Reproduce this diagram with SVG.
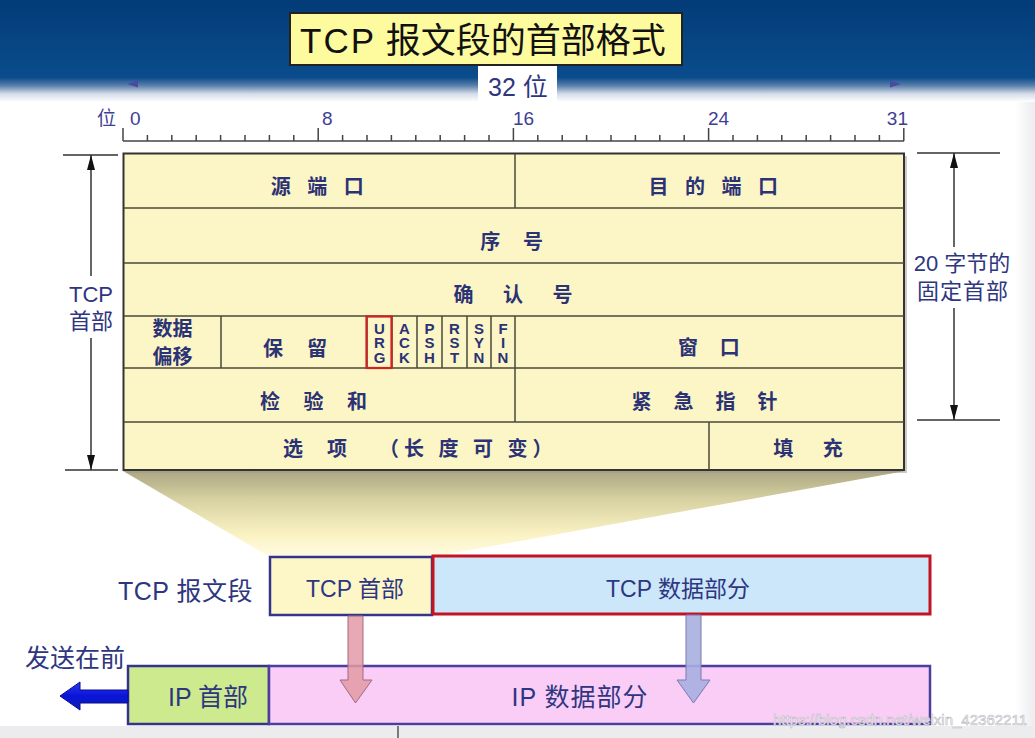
<svg xmlns="http://www.w3.org/2000/svg" width="1035" height="738" viewBox="0 0 1035 738">
<defs>
<linearGradient id="band" x1="0" y1="0" x2="0" y2="1">
<stop offset="0" stop-color="#033c78"/>
<stop offset="0.76" stop-color="#0a4c8c"/>
<stop offset="0.84" stop-color="#5c80ab"/>
<stop offset="0.92" stop-color="#d5dce8"/>
<stop offset="1" stop-color="#ffffff"/>
</linearGradient>
<linearGradient id="funnel" x1="0" y1="0" x2="0" y2="1">
<stop offset="0" stop-color="#aca783"/>
<stop offset="0.35" stop-color="#d9d3a4"/>
<stop offset="0.75" stop-color="#fbf3c4"/>
<stop offset="1" stop-color="#fffbe2"/>
</linearGradient>
<linearGradient id="blueArrow" x1="0" y1="0" x2="0" y2="1">
<stop offset="0" stop-color="#2a3af0"/>
<stop offset="0.5" stop-color="#0a14d8"/>
<stop offset="1" stop-color="#1020b0"/>
</linearGradient>
<linearGradient id="edge" x1="0" y1="0" x2="1" y2="0">
<stop offset="0" stop-color="#ffffff"/>
<stop offset="1" stop-color="#ececef"/>
</linearGradient>
<marker id="ah" markerUnits="userSpaceOnUse" markerWidth="16" markerHeight="9" refX="15" refY="4" orient="auto-start-reverse">
<path d="M0,0 L15,4 L0,8 Z" fill="#111"/>
</marker>
<style>
.cjk{font-family:"Liberation Sans","Noto Sans CJK SC",sans-serif}
.fld{font-family:"Liberation Sans","Noto Sans CJK SC",sans-serif;font-size:20px;font-weight:bold;fill:#2b3275;text-anchor:middle}
.fldc{font-family:"Noto Sans CJK SC",sans-serif;font-size:20px;font-weight:bold;fill:#2b3275}
.flag{font-family:"Liberation Sans",sans-serif;font-size:15px;font-weight:bold;fill:#2b3275;writing-mode:vertical-rl;text-orientation:upright;letter-spacing:-2.7px}
.lbl{font-family:"Liberation Sans","Noto Sans CJK SC",sans-serif;fill:#2e3680}
.rul{font-family:"Liberation Sans","Noto Sans CJK SC",sans-serif;font-size:19px;fill:#3e3e94}
.grid{stroke:#4a4a3a;stroke-width:1.5;fill:none}
.tick{stroke:#444;stroke-width:1.5}
.dim{stroke:#333;stroke-width:1.5;fill:none}
.box{stroke:#34348a;stroke-width:2.5}
</style>
</defs>

<!-- background -->
<rect x="0" y="0" width="1035" height="738" fill="#ffffff"/>
<rect x="1015" y="100" width="20" height="626" fill="url(#edge)"/>
<rect x="0" y="0" width="1035" height="102" fill="url(#band)"/>
<rect x="0" y="726" width="1035" height="12" fill="#ececee"/>
<line x1="398" y1="726" x2="398" y2="738" stroke="#555" stroke-width="1.5"/>

<!-- title -->
<g id="title">
<rect x="290" y="13" width="392" height="52" fill="#fdfb9e" stroke="#222" stroke-width="2"/>
<text x="300" y="53" class="cjk" font-size="35" fill="#111"><tspan letter-spacing="2">TCP</tspan> 报文段的首部格式</text>
</g>

<!-- 32 bit label -->
<g id="width-label">
<rect x="478" y="66" width="79" height="36" fill="#ffffff"/>
<polygon points="127,84 138,80.5 138,87.5" fill="#4a4aa0"/>
<polygon points="901,84 890,80.5 890,87.5" fill="#4a4aa0"/>
<text x="518" y="96" class="lbl" font-size="25" text-anchor="middle" fill="#3a3a90">32 位</text>
</g>

<!-- ruler -->
<g id="ruler">
<text x="97" y="125" class="rul" font-size="20">位</text>
<text x="130" y="125" class="rul">0</text>
<text x="322" y="125" class="rul">8</text>
<text x="513" y="125" class="rul">16</text>
<text x="708" y="125" class="rul">24</text>
<text x="908" y="125" class="rul" text-anchor="end">31</text>
<line x1="123" y1="141" x2="904" y2="141" class="tick"/>
<path class="tick" d="M123,128V141 M318.2,128V141 M513.4,128V141 M708.6,128V141 M903.8,128V141
M147.4,135V141 M171.8,135V141 M196.2,135V141 M220.6,135V141 M245,135V141 M269.4,135V141 M293.8,135V141
M342.6,135V141 M367,135V141 M391.4,135V141 M415.8,135V141 M440.2,135V141 M464.6,135V141 M489,135V141
M537.8,135V141 M562.2,135V141 M586.6,135V141 M611,135V141 M635.4,135V141 M659.8,135V141 M684.2,135V141
M733,135V141 M757.4,135V141 M781.8,135V141 M806.2,135V141 M830.6,135V141 M855,135V141 M879.4,135V141"/>
</g>

<!-- funnel -->
<g id="connectors">
<polygon points="123,471 905,471 432,557 270,557" fill="url(#funnel)"/>
</g>

<!-- header table -->
<g id="tcp-header">
<rect x="126" y="156" width="781" height="317" fill="#9a9a90" opacity="0.5"/>
<rect x="123.5" y="153.5" width="780.5" height="316.5" fill="#fcf6c6" stroke="#333" stroke-width="2"/>
<path class="grid" d="M124,208H904 M124,263H904 M124,316H904 M124,368H904 M124,422H904
M515,154V208 M515,368V422 M221,316V368 M367,316V368 M392,316V368 M417,316V368 M442,316V368 M467,316V368 M491,316V368 M515,316V368 M709,422V470"/>
</g>

<g id="src-port"><text x="320" y="194" class="fld" letter-spacing="5.5">源 端 口</text></g>
<g id="dst-port"><text x="716" y="194" class="fld" letter-spacing="5.5">目 的 端 口</text></g>
<g id="seq"><text x="516" y="249" class="fld" letter-spacing="8.7">序 号</text></g>
<g id="ack-num"><text x="519" y="302" class="fld" letter-spacing="12">确 认 号</text></g>
<g id="data-offset"><text x="172.5" y="336" class="fld" font-size="21">数据</text><text x="172.5" y="364" class="fld" font-size="21">偏移</text></g>
<g id="reserved"><text x="299.6" y="356" class="fld" letter-spacing="9.2">保 留</text></g>
<g id="flags">
<rect x="366.5" y="316.5" width="25" height="51.5" fill="none" stroke="#d02222" stroke-width="2.2"/>
<text x="379.5" y="320" class="flag">URG</text>
<text x="404.5" y="320" class="flag">ACK</text>
<text x="429.5" y="320" class="flag">PSH</text>
<text x="454.5" y="320" class="flag">RST</text>
<text x="479" y="320" class="flag">SYN</text>
<text x="503" y="320" class="flag">FIN</text>
</g>
<g id="window"><text x="713" y="355" class="fld" letter-spacing="8.2">窗 口</text></g>
<g id="checksum"><text x="318" y="409" class="fld" letter-spacing="9">检 验 和</text></g>
<g id="urgent-ptr"><text x="708.6" y="409" class="fld" letter-spacing="8.2">紧 急 指 针</text></g>
<g id="options"><text x="283" y="456" class="fldc"><tspan letter-spacing="9.7">选 项 </tspan><tspan x="379" letter-spacing="5">（长 度 可 变）</tspan></text></g>
<g id="padding"><text x="814" y="456" class="fld" letter-spacing="12">填 充</text></g>

<!-- dimension: TCP header -->
<g id="dim-left">
<path class="dim" d="M63,155H118 M65,470H118"/>
<path class="dim" d="M91,155V276" marker-start="url(#ah)"/>
<path class="dim" d="M91,470V338" marker-start="url(#ah)"/>
<text x="91" y="302" class="lbl" font-size="22" text-anchor="middle">TCP</text>
<text x="91" y="329" class="lbl" font-size="22" text-anchor="middle">首部</text>
</g>

<!-- dimension: 20 bytes -->
<g id="dim-right">
<path class="dim" d="M917,153H1000 M917,420H1000"/>
<path class="dim" d="M954,153V247" marker-start="url(#ah)"/>
<path class="dim" d="M954,420V308" marker-start="url(#ah)"/>
<text x="962" y="271" class="lbl" font-size="22" text-anchor="middle">20 字节的</text>
<text x="963" y="299" class="lbl" font-size="22" text-anchor="middle" letter-spacing="1">固定首部</text>
</g>

<!-- TCP segment -->
<g id="tcp-segment">
<text x="118" y="600" class="lbl" font-size="25" letter-spacing="0.5">TCP 报文段</text>
</g>
<g id="tcp-head-box">
<rect x="270" y="557" width="162" height="58" fill="#fdf7c8" class="box"/>
<text x="355" y="597" class="lbl" font-size="23" text-anchor="middle">TCP 首部</text>
</g>
<g id="tcp-data-box">
<rect x="433" y="556" width="497" height="58" fill="#cce6fa" stroke="#c41424" stroke-width="3"/>
<text x="678" y="597" class="lbl" font-size="23" text-anchor="middle">TCP 数据部分</text>
</g>

<!-- IP datagram -->
<g id="send-first">
<text x="25" y="667" class="lbl" font-size="25">发送在前</text>
</g>
<g id="ip-head-box">
<rect x="128" y="666" width="141" height="58" fill="#cdea8f" class="box"/>
<text x="208" y="706" class="lbl" font-size="25" text-anchor="middle">IP 首部</text>
</g>
<g id="ip-data-box">
<rect x="269" y="666" width="661" height="58" fill="#facdf7" stroke="#4a3f9c" stroke-width="2.5"/>
<text x="580" y="706" class="lbl" font-size="25" text-anchor="middle" letter-spacing="1">IP 数据部分</text>
</g>

<!-- arrows -->
<g id="arrows">
<polygon points="60,696 80,682 80,690 128,690 128,703 80,703 80,710" fill="url(#blueArrow)" stroke="#0a0a90" stroke-width="1"/>
<polygon points="348,616 363,616 363,680 372,680 355.5,703 340,680 348,680" fill="#e39aa6" fill-opacity="0.85" stroke="#a06a80" stroke-width="1"/>
<polygon points="686,615 701,615 701,680 710,680 693.5,703 677,680 686,680" fill="#a7afe0" fill-opacity="0.9" stroke="#7a7ab0" stroke-width="1"/>
</g>

<!-- watermark -->
<text x="1027" y="725" font-family="Liberation Sans, sans-serif" font-size="15" text-anchor="end" fill="#ffffff" stroke="#b8b8c0" stroke-width="0.6">https://blog.csdn.net/weixin_42362211</text>
</svg>
